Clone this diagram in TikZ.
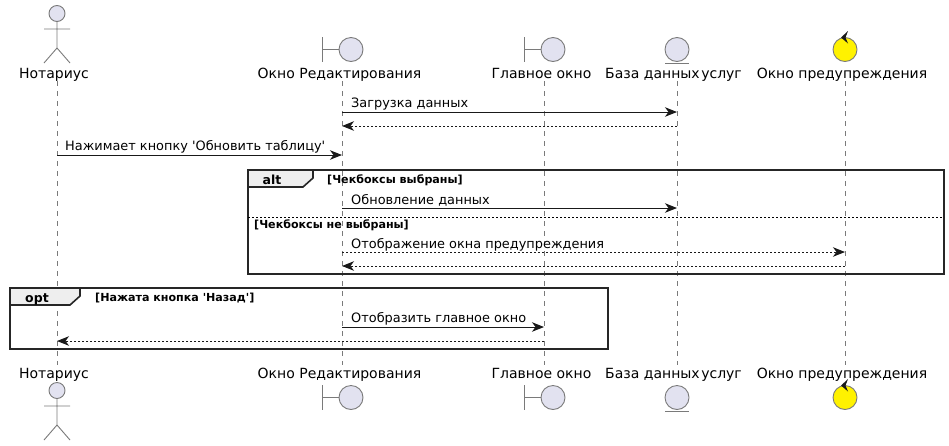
\documentclass[tikz,border=0pt]{standalone}
\usepackage{fontspec}
\setmainfont{DejaVu Sans}
\usetikzlibrary{arrows.meta}
\definecolor{partfill}{HTML}{E2E2F0}
\definecolor{partline}{HTML}{7A7A7A}
\definecolor{tabfill}{HTML}{EEEEEE}
\tikzset{
	partlabel/.style={anchor=base, inner sep=0pt, font=\fontsize{14}{14}\selectfont},
	msglabel/.style={anchor=base west, inner sep=0pt, font=\fontsize{12.9}{13}\selectfont},
	guardlabel/.style={anchor=base west, inner sep=0pt, font=\fontsize{11.1}{12}\selectfont\bfseries},
	tablabel/.style={anchor=base, inner sep=0pt, font=\fontsize{12.5}{13}\selectfont\bfseries},
	lifeline/.style={draw=partline, line width=0.9pt, dash pattern=on 5pt off 5pt},
	msg/.style={line width=1pt, draw=black!90, -{Stealth[length=12pt, width=9.5pt, inset=3.5pt]}},
	msgback/.style={msg, dash pattern=on 2pt off 2pt},
	partshape/.style={draw=partline, line width=0.9pt},
	framebox/.style={draw=black!85, line width=1.6pt},
	actorpic/.pic={
		\draw[partshape, fill=partfill] (0,13.5) circle [radius=8];
		\draw[partshape] (0,21.5) -- (0,48) (-13,29) -- (13,29) (-13,63) -- (0,48) -- (13,63);
	},
	boundarypic/.pic={
		\draw[partshape] (-29,37) -- (-29,62) (-29,49.5) -- (-12,49.5);
		\draw[partshape, fill=partfill] (0,49.5) circle [radius=12];
	},
	entitypic/.pic={
		\draw[partshape, fill=partfill] (0,49.5) circle [radius=12];
		\draw[partshape] (-12,63) -- (12,63);
	},
	controlpic/.pic={
		\draw[partshape, fill=yellow] (0,49.5) circle [radius=12];
		\fill[black!90] (3,31) -- (-4,37.5) -- (3,43.5) -- (0.5,37.5) -- cycle;
	},
}
\begin{document}
\begin{tikzpicture}[x=1pt, y=-1pt]
	\useasboundingbox (0,0) rectangle (949,445);
	% Lifelines:
	\coordinate (note) at (57,81);
	\coordinate (edit) at (342,81);
	\coordinate (main) at (544,81);
	\coordinate (base) at (677,81);
	\coordinate (warn) at (845,81);
	\coordinate (lifeend) at (0,365);
	\foreach \part in {note, edit, main, base, warn}
		\draw[lifeline] (\part) -- (\part |- lifeend);
	% Participants, top and bottom:
	\pic at (57,0) {actorpic};
	\pic at (351,0) {boundarypic};
	\pic at (553,0) {boundarypic};
	\pic at (677,0) {entitypic};
	\pic at (845,0) {controlpic};
	\pic at (57,377) {actorpic};
	\pic at (351,348) {boundarypic};
	\pic at (553,348) {boundarypic};
	\pic at (677,348) {entitypic};
	\pic at (845,348) {controlpic};
	\foreach \name/\xpos/\ytop/\ybot/\txt in {
		note/54/78/378/Нотариус,
		edit/339.5/78/378/Окно Редактирования,
		main/541.5/78/378/Главное окно,
		base/673.5/78/378/База данных{\spaceskip=1.5pt\relax\ }услуг,
		warn/842/78/378/Окно предупреждения} {
		\node[partlabel] (\name top) at (\xpos,\ytop) {\txt};
		\node[partlabel] (\name bot) at (\xpos,\ybot) {\txt};
	}
	% Frames:
	\node[framebox, inner sep=0pt, outer sep=0pt, minimum width=696pt, minimum height=104pt, anchor=north west] (altframe) at (248,170) {};
	\draw[framebox, fill=tabfill] (altframe.north west) -- ++(65,0) -- ++(0,8) -- ++(-10,9) -- ++(-55,0) -- cycle;
	\node[tablabel] (alttab) at (272,184) {alt};
	\node[guardlabel] (altguard) at (327,183) {[Чекбоксы выбраны]};
	\coordinate (altsplit) at (248,217);
	\draw[line width=0.8pt, dash pattern=on 2pt off 2pt] (altsplit) -- (altsplit -| altframe.east);
	\node[guardlabel] (elseguard) at (254,228) {[Чекбоксы не выбраны]};
	\node[framebox, inner sep=0pt, outer sep=0pt, minimum width=598pt, minimum height=61pt, anchor=north west] (optframe) at (10,288) {};
	\draw[framebox, fill=tabfill] (optframe.north west) -- ++(70,0) -- ++(0,8) -- ++(-10,9) -- ++(-60,0) -- cycle;
	\node[tablabel] (opttab) at (37,302) {opt};
	\node[guardlabel] (optguard) at (95,301) {[Нажата кнопка \textquotesingle Назад\textquotesingle]};
	% Messages:
	\coordinate (rowa) at (0,112);
	\coordinate (rowb) at (0,126);
	\coordinate (rowc) at (0,155);
	\coordinate (rowd) at (0,208);
	\coordinate (rowe) at (0,252);
	\coordinate (rowf) at (0,266);
	\coordinate (rowg) at (0,327);
	\coordinate (rowh) at (0,341);
	\draw[msg] (edit |- rowa) -- (base |- rowa);
	\draw[msgback] (base |- rowb) -- (edit |- rowb);
	\draw[msg] (note |- rowc) -- (edit |- rowc);
	\draw[msg] (edit |- rowd) -- (base |- rowd);
	\draw[msgback] (edit |- rowe) -- (warn |- rowe);
	\draw[msgback] (warn |- rowf) -- (edit |- rowf);
	\draw[msg] (edit |- rowg) -- (main |- rowg);
	\draw[msgback] (main |- rowh) -- (note |- rowh);
	\node[msglabel] (loadtxt) at (351,107) {Загрузка данных};
	\node[msglabel] (presstxt) at (65,150) {Нажимает кнопку \textquotesingle Обновить таблицу\textquotesingle};
	\node[msglabel] (updatetxt) at (351,204) {Обновление данных};
	\node[msglabel] (warntxt) at (351,248) {Отображение окна предупреждения};
	\node[msglabel] (maintxt) at (351,322) {Отобразить главное окно};
\end{tikzpicture}
\end{document}
